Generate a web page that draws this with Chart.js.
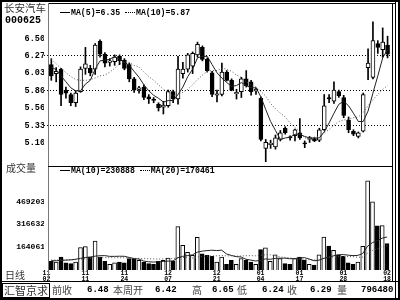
<!DOCTYPE html>
<html><head><meta charset="utf-8">
<script src="https://cdn.jsdelivr.net/npm/chart.js@4.4.0/dist/chart.umd.min.js"></script>
<style>
html,body{margin:0;padding:0;background:#fff;}
#wrap{position:relative;width:400px;height:300px;overflow:hidden;background:#fff;}
.abs{position:absolute;}
.cjk{position:absolute;font-family:"Noto Sans CJK SC";color:#000;white-space:nowrap;}
.mono{position:absolute;font-family:"Liberation Mono","DejaVu Sans Mono",monospace;font-weight:bold;color:#000;white-space:nowrap;}
.hl{position:absolute;height:1px;background:#000;}
.vl{position:absolute;width:1px;background:#000;}
.dash{display:inline-block;width:10px;border-top:1px solid #000;vertical-align:middle;margin-right:1px;}
.dots{display:inline-block;width:10px;border-top:1px dotted #000;vertical-align:middle;margin-right:1px;}
</style></head>
<body><div id="wrap">
<canvas id="pc" class="abs" style="left:0;top:4px;"></canvas>
<canvas id="vc" class="abs" style="left:0;top:166px;"></canvas>

<div class="abs" style="left:0;top:0;width:400px;height:300px;box-sizing:border-box;border:2px solid #000;"></div>
<div class="hl" style="left:48px;top:3px;width:347px;"></div>
<div class="vl" style="left:48px;top:3px;height:279px;background:#777;"></div>
<div class="vl" style="left:392px;top:3px;height:279px;"></div>
<div class="vl" style="left:395px;top:0;height:300px;"></div>
<div class="hl" style="left:48px;top:166px;width:345px;"></div>
<div class="hl" style="left:0;top:281px;width:400px;"></div>

<div class="cjk" style="left:4px;top:1px;font-size:10.5px;line-height:14px;color:#333;">长安汽车</div>
<div class="mono" style="left:5px;top:16px;font-size:10px;line-height:10px;">000625</div>
<div class="mono" style="left:60px;top:8px;font-size:8.2px;line-height:10px;"><span class="dash"></span>MA(5)=6.35 <span class="dots"></span>MA(10)=5.87</div>
<div class="cjk" style="left:6px;top:161px;font-size:10px;line-height:14px;color:#333;">成交量</div>
<div class="mono" style="left:60px;top:166px;font-size:8.2px;line-height:10px;"><span class="dash"></span>MA(10)=230888 <span class="dots"></span>MA(20)=170461</div>
<div class="cjk" style="left:5px;top:268px;font-size:10px;line-height:14px;color:#333;">日线</div>

<div class="abs" style="left:2px;top:283px;width:46px;height:13px;border:1px solid #000;"></div>
<div class="cjk" style="left:4px;top:283px;font-size:11px;line-height:14px;color:#333;">汇智京求</div>
<div class="cjk" style="left:52px;top:283px;font-size:10px;line-height:14px;color:#444;">前收</div>
<div class="mono" style="left:87px;top:285px;font-size:9px;line-height:10px;">6.48</div>
<div class="cjk" style="left:113px;top:283px;font-size:10px;line-height:14px;color:#444;">本周开</div>
<div class="mono" style="left:155px;top:285px;font-size:9px;line-height:10px;">6.42</div>
<div class="cjk" style="left:192px;top:283px;font-size:10px;line-height:14px;color:#444;">高</div>
<div class="mono" style="left:212px;top:285px;font-size:9px;line-height:10px;">6.65</div>
<div class="cjk" style="left:237px;top:283px;font-size:10px;line-height:14px;color:#444;">低</div>
<div class="mono" style="left:262px;top:285px;font-size:9px;line-height:10px;">6.24</div>
<div class="cjk" style="left:287px;top:283px;font-size:10px;line-height:14px;color:#444;">收</div>
<div class="mono" style="left:310px;top:285px;font-size:9px;line-height:10px;">6.29</div>
<div class="cjk" style="left:337px;top:283px;font-size:10px;line-height:14px;color:#444;">量</div>
<div class="mono" style="left:361px;top:285px;font-size:9px;line-height:10px;">796480</div>
</div>
<script>
// ---- data (70 daily bars) ----
const open = [6.15,6.03,6.09,5.81,5.75,5.64,5.79,6.10,6.10,6.09,
  6.46,6.29,6.18,6.19,6.26,6.21,6.15,5.96,5.82,5.85,
  5.72,5.69,5.62,5.58,5.60,5.79,5.69,6.03,6.09,6.13,
  6.28,6.38,6.22,6.04,5.74,5.75,6.05,5.94,5.76,5.79,
  5.96,5.92,5.80,5.70,5.03,5.08,5.05,5.15,5.30,5.18,
  5.20,5.24,5.10,5.15,5.16,5.14,5.28,5.71,5.66,5.79,
  5.71,5.41,5.26,5.19,5.26,6.11,5.98,6.43,6.35,6.41];
const high = [6.23,6.11,6.10,5.85,5.77,5.80,6.12,6.38,6.14,6.43,
  6.48,6.31,6.23,6.28,6.28,6.23,6.17,5.98,5.86,5.88,
  5.75,5.71,5.64,5.66,5.81,5.81,6.26,6.18,6.30,6.32,
  6.45,6.40,6.24,6.06,5.81,6.17,6.07,5.96,5.82,5.98,
  6.07,5.94,5.84,5.72,5.15,5.14,5.21,5.27,5.32,5.20,
  5.29,5.43,5.13,5.19,5.17,5.30,5.75,5.75,5.92,5.81,
  5.74,5.45,5.28,5.25,5.77,6.36,6.72,6.47,6.64,6.53];
const low = [5.94,5.92,5.60,5.70,5.60,5.59,5.78,6.02,6.00,6.02,
  6.25,6.12,6.13,6.14,6.15,6.08,5.92,5.78,5.77,5.68,
  5.63,5.64,5.53,5.49,5.58,5.64,5.62,5.97,6.05,6.03,
  6.25,6.20,6.05,5.72,5.65,5.73,5.93,5.80,5.69,5.71,
  5.85,5.74,5.75,5.13,4.85,5.03,5.02,5.13,5.22,5.14,
  5.13,5.15,5.04,5.11,5.12,5.12,5.27,5.64,5.63,5.71,
  5.44,5.24,5.20,5.17,5.25,5.95,5.96,6.30,6.25,6.24];
const close = [6.00,6.06,5.75,5.77,5.64,5.77,6.09,6.16,6.04,6.41,
  6.29,6.17,6.20,6.25,6.20,6.10,5.96,5.81,5.84,5.71,
  5.69,5.67,5.57,5.61,5.79,5.69,6.09,6.09,6.28,6.30,
  6.42,6.22,6.07,5.75,5.76,6.05,5.94,5.81,5.78,5.96,
  5.87,5.79,5.82,5.15,5.11,5.10,5.17,5.24,5.24,5.17,
  5.28,5.17,5.09,5.16,5.13,5.28,5.60,5.69,5.81,5.73,
  5.47,5.28,5.22,5.24,5.75,6.17,6.47,6.38,6.45,6.29];
const ma5 = [6.12,6.08,6.00,5.92,5.84,5.80,5.80,5.89,5.94,6.09,
  6.20,6.21,6.22,6.26,6.22,6.18,6.14,6.06,5.98,5.88,
  5.80,5.74,5.70,5.65,5.67,5.67,5.75,5.85,5.99,6.09,
  6.24,6.26,6.26,6.15,6.04,5.97,5.91,5.86,5.87,5.91,
  5.87,5.84,5.84,5.72,5.55,5.39,5.27,5.15,5.17,5.18,
  5.22,5.22,5.19,5.17,5.17,5.17,5.25,5.37,5.50,5.62,
  5.66,5.60,5.50,5.39,5.39,5.53,5.77,6.00,6.24,6.35];
const ma10 = [6.22,6.16,6.10,6.04,5.99,5.95,5.94,5.94,5.95,5.97,
  6.00,6.01,6.05,6.10,6.16,6.19,6.18,6.14,6.12,6.05,
  5.99,5.94,5.88,5.82,5.78,5.73,5.75,5.78,5.82,5.88,
  5.95,6.01,6.06,6.07,6.07,6.10,6.09,6.06,6.01,5.98,
  5.92,5.88,5.85,5.79,5.73,5.63,5.56,5.50,5.45,5.37,
  5.31,5.25,5.17,5.17,5.18,5.19,5.24,5.28,5.34,5.39,
  5.41,5.42,5.44,5.45,5.51,5.60,5.68,5.75,5.82,5.87];
const volume = [66000,60000,95000,55000,50000,60000,160000,166000,95000,203000,
  95000,66000,45000,55000,60000,55000,84000,80000,73000,60000,
  50000,45000,66000,73000,88000,66000,301000,175000,127000,106000,
  229000,117000,106000,100000,60000,95000,45000,73000,45000,84000,
  73000,60000,45000,145000,158000,66000,110000,84000,50000,45000,
  84000,95000,75000,45000,40000,110000,231000,170000,140000,110000,
  100000,55000,45000,60000,168000,612000,469000,306000,308000,186000];
const volMa10 = [70000,70000,72000,74000,76000,80000,86000,92000,95000,101000,
  103900,104500,99500,99500,100500,100000,92400,83800,81600,67300,
  62800,60700,62800,64600,67400,68500,90200,99700,105100,109700,
  127600,134800,138800,141500,138700,141600,116000,105800,97600,95400,
  79800,74100,68000,72500,82300,79400,85900,87000,87500,83600,
  84700,88200,91200,81200,69400,73800,85900,94500,103500,110000,
  111600,107600,104600,106100,118900,169100,192900,206500,223300,230900];
const volMa20 = [75000,75000,76000,76000,76000,77000,80000,83000,84000,88000,
  90000,91000,91000,90000,90000,90000,89000,87000,86000,84200,
  83400,82600,81200,82100,84000,84300,91300,91800,93400,88500,
  95200,97800,100800,103100,103100,105100,103100,102800,101400,102600,
  103700,104500,103400,107000,110500,110500,101000,96400,92600,89500,
  82300,81200,79600,76900,75900,76600,85900,90800,95500,96800,
  98200,97900,97900,93700,94200,121500,139400,150500,163400,170500];
// the first (leftmost) day sits under the panel border and is not drawn
const dateTicks = [[0,'11','02'],[8,'11','11'],[16,'11','24'],[25,'12','07'],[35,'12','21'],
  [44,'01','04'],[52,'01','17'],[61,'01','28'],[70,'02','18']];
const priceTicks = [6.50, 6.2667, 6.0333, 5.80, 5.5667, 5.3333, 5.10];
const priceTickText = ['6.50','6.27','6.03','5.80','5.56','5.33','5.10'];
const priceGrid = [6.2667, 5.80, 5.3333];
const volTicks = [164061, 316632, 469203];

// ---- chart construction ----
const N = open.length + 1;
const cats = Array.from({length: N}, (_, i) => i);
const pad = a => [null].concat(a);
const up = open.map((o, i) => close[i] >= o);
const bodyFill = pad(up.map(u => u ? '#ffffff' : '#000000'));
const tickMap = {}; dateTicks.forEach(t => tickMap[t[0]] = [t[1], t[2]]);
const monoFont = (s, lh) => ({family: "'Liberation Mono','DejaVu Sans Mono',monospace", size: s, weight: 'bold', lineHeight: lh || 1.2});

const pc = document.getElementById('pc');
pc.width = 392; pc.height = 162;
new Chart(pc, {
  type: 'bar',
  data: {
    labels: cats,
    datasets: [
      {type: 'line', data: pad(ma5), borderColor: '#222', borderWidth: 1, pointRadius: 0, tension: 0, order: -2},
      {type: 'line', data: pad(ma10), borderColor: '#555', borderWidth: 1, borderDash: [1, 2], pointRadius: 0, tension: 0, order: -1},
      {data: pad(open.map((o, i) => [o, close[i]])), backgroundColor: bodyFill, borderColor: '#000', borderWidth: 1,
        borderSkipped: false, barThickness: 4, minBarLength: 1, grouped: false, order: 0},
      {data: pad(low.map((l, i) => [l, high[i]])), backgroundColor: '#000', borderWidth: 0,
        barThickness: 1, grouped: false, order: 1}
    ]
  },
  options: {
    responsive: false, animation: false, events: [],
    layout: {padding: {left: 0, right: 2, top: 0, bottom: 0}},
    plugins: {legend: {display: false}, tooltip: {enabled: false}},
    scales: {
      x: {type: 'category', offset: true, display: false},
      y: {
        min: 4.85, max: 6.905,
        afterFit: s => { s.width = 44; },
        afterBuildTicks: s => { s.ticks = priceTicks.map(v => ({value: v})); },
        ticks: {callback: (v, i) => priceTickText[i], font: monoFont(8.5), color: '#000', padding: -1},
        grid: {drawTicks: false, lineWidth: 1,
          color: c => (c.tick && priceGrid.includes(c.tick.value)) ? '#000' : 'rgba(0,0,0,0)'},
        border: {display: false, dash: [1, 2]}
      }
    }
  }
});

const vc = document.getElementById('vc');
vc.width = 392; vc.height = 116;
new Chart(vc, {
  type: 'bar',
  data: {
    labels: cats,
    datasets: [
      {type: 'line', data: pad(volMa10), borderColor: '#222', borderWidth: 1, pointRadius: 0, tension: 0, order: -2},
      {type: 'line', data: pad(volMa20), borderColor: '#555', borderWidth: 1, borderDash: [1, 2], pointRadius: 0, tension: 0, order: -1},
      {data: pad(volume), backgroundColor: bodyFill, borderColor: '#000', borderWidth: 1,
        borderSkipped: 'bottom', barThickness: 4, grouped: false, order: 0}
    ]
  },
  options: {
    responsive: false, animation: false, events: [],
    layout: {padding: {left: 0, right: 2, top: 0, bottom: 0}},
    plugins: {legend: {display: false}, tooltip: {enabled: false}},
    scales: {
      x: {type: 'category', offset: true,
        afterFit: s => { s.height = 12; },
        ticks: {autoSkip: false, maxRotation: 0, minRotation: 0, padding: 1, color: '#000', font: monoFont(6.5, 0.85),
          callback: (v, i) => tickMap[i] || null},
        grid: {display: false, drawTicks: false}, border: {display: false}},
      y: {
        min: 7000, max: 687000,
        afterFit: s => { s.width = 44; },
        afterBuildTicks: s => { s.ticks = volTicks.map(v => ({value: v})); },
        ticks: {callback: v => String(v), font: monoFont(8), color: '#000', padding: -1},
        grid: {display: false, drawTicks: false}, border: {display: false}
      }
    }
  }
});
</script>
</body></html>
